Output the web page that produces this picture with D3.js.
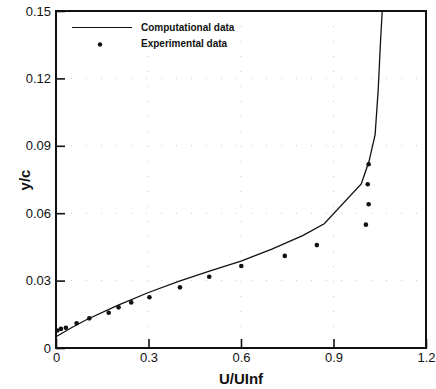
<!DOCTYPE html>
<html>
<head>
<meta charset="utf-8">
<script src="https://cdn.jsdelivr.net/npm/d3@7"></script>
<style>
  body { margin: 0; background: #fff; }
  svg text { font-family: "Liberation Sans", Arial, sans-serif; fill: #111; }
</style>
</head>
<body>
<div id="chart"></div>
<script>
// Computational profile (U/Uinf, y/c)
const compX = [0, 0.05, 0.1, 0.2, 0.3, 0.4, 0.5, 0.6, 0.7, 0.8, 0.87, 0.99, 1.015, 1.035, 1.045, 1.052, 1.058];
const compY = [0.005, 0.009, 0.0127, 0.019, 0.0247, 0.0298, 0.0343, 0.0387, 0.044, 0.050, 0.0553, 0.073, 0.083, 0.095, 0.115, 0.135, 0.15];

// Experimental points
const expX = [0.004, 0.016, 0.032, 0.067, 0.108, 0.171, 0.203, 0.244, 0.303, 0.402, 0.497, 0.601, 0.742, 0.846, 1.005, 1.014, 1.011, 1.014];
const expY = [0.0078, 0.0085, 0.009, 0.011, 0.0132, 0.0157, 0.0181, 0.0203, 0.0226, 0.027, 0.0317, 0.0365, 0.041, 0.0458, 0.0549, 0.064, 0.0729, 0.0818];

const xTicks = [0, 0.3, 0.6, 0.9, 1.2];
const yTicks = [0, 0.03, 0.06, 0.09, 0.12, 0.15];

const W = 436, H = 389;
const margin = { top: 11, right: 10, bottom: 41, left: 56 };
const width = W - margin.left - margin.right,
      height = H - margin.top - margin.bottom;

const svg = d3.select("#chart").append("svg")
    .attr("width", W)
    .attr("height", H);

const g = svg.append("g")
    .attr("transform", `translate(${margin.left},${margin.top})`);

const x = d3.scaleLinear().domain([0, 1.2]).range([0, width]);
const y = d3.scaleLinear().domain([0, 0.15]).range([height, 0]);

// faint dotted grid
g.append("g").selectAll("line.gx")
  .data(xTicks.slice(1, -1))
  .enter().append("line")
  .attr("x1", d => x(d)).attr("x2", d => x(d))
  .attr("y1", 0).attr("y2", height)
  .attr("stroke", "#bbb").attr("stroke-width", 0.8)
  .attr("stroke-dasharray", "1,14");
g.append("g").selectAll("line.gy")
  .data(yTicks.slice(1, -1))
  .enter().append("line")
  .attr("x1", 0).attr("x2", width)
  .attr("y1", d => y(d)).attr("y2", d => y(d))
  .attr("stroke", "#bbb").attr("stroke-width", 0.8)
  .attr("stroke-dasharray", "1,14");

const fmt = d => d === 0 ? "0" : String(d);

// X axis, ticks pointing inward
const xAxis = g.append("g")
  .attr("transform", `translate(0,${height})`)
  .call(d3.axisBottom(x).tickValues(xTicks).tickFormat(fmt)
        .tickSizeInner(-9).tickSizeOuter(0).tickPadding(5));
xAxis.select(".domain").remove();
xAxis.selectAll("line").attr("stroke", "#111").attr("stroke-width", 1.6);
xAxis.selectAll("text").style("font-size", "13px");

// Y axis
const yAxis = g.append("g")
  .call(d3.axisLeft(y).tickValues(yTicks).tickFormat(fmt)
        .tickSizeInner(-9).tickSizeOuter(0).tickPadding(5));
yAxis.select(".domain").remove();
yAxis.selectAll("line").attr("stroke", "#111").attr("stroke-width", 1.6);
yAxis.selectAll("text").style("font-size", "13px");

// frame
g.append("rect")
  .attr("x", 0).attr("y", 0)
  .attr("width", width).attr("height", height)
  .attr("fill", "none")
  .attr("stroke", "#111")
  .attr("stroke-width", 2);

// computational line
const line = d3.line()
  .x(d => x(d[0]))
  .y(d => y(d[1]));
g.append("path")
  .datum(d3.zip(compX, compY))
  .attr("d", line)
  .attr("fill", "none")
  .attr("stroke", "#111")
  .attr("stroke-width", 1.3);

// experimental points
g.selectAll("circle.exp")
  .data(d3.zip(expX, expY))
  .enter().append("circle")
  .attr("class", "exp")
  .attr("cx", d => x(d[0]))
  .attr("cy", d => y(d[1]))
  .attr("r", 2.3)
  .attr("fill", "#111");

// legend
svg.append("line")
  .attr("x1", 72).attr("x2", 132)
  .attr("y1", 27.5).attr("y2", 27.5)
  .attr("stroke", "#111").attr("stroke-width", 1.2);
svg.append("text")
  .attr("x", 141).attr("y", 31)
  .style("font-size", "10px").style("font-weight", "bold")
  .text("Computational data");
svg.append("circle")
  .attr("cx", 100).attr("cy", 44.5).attr("r", 2.2).attr("fill", "#111");
svg.append("text")
  .attr("x", 141).attr("y", 47)
  .style("font-size", "10px").style("font-weight", "bold")
  .text("Experimental data");

// axis titles
svg.append("text")
  .attr("x", margin.left + width / 2)
  .attr("y", 384)
  .attr("text-anchor", "middle")
  .style("font-size", "15px").style("font-weight", "bold")
  .text("U/UInf");
svg.append("text")
  .attr("transform", "translate(30,180) rotate(-90)")
  .attr("text-anchor", "middle")
  .style("font-size", "15px").style("font-weight", "bold")
  .text("y/c");
</script>
</body>
</html>
